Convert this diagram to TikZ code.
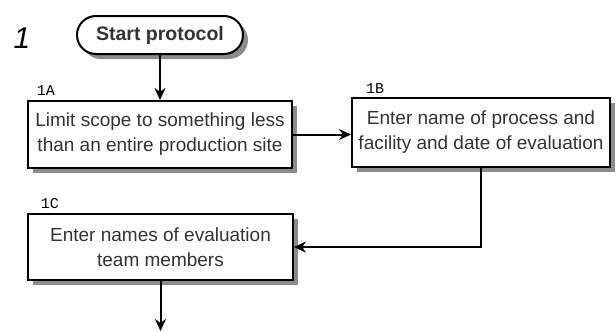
\documentclass[tikz,border=0pt]{standalone}
\usepackage{fontspec}
\setmainfont{Liberation Sans}
\newfontfamily\labelfont{Liberation Mono}
\usetikzlibrary{shapes.misc,arrows.meta}

\begin{document}
\begin{tikzpicture}[x=1pt, y=-1pt,
        stepbox/.style={draw, line width=2pt, fill=white, align=center,
            inner sep=0pt, font=\fontsize{19}{25}\selectfont, text=black!80},
        startbox/.style={stepbox, rounded rectangle, font=\bfseries\fontsize{19.5}{22}\selectfont,
            minimum width=166pt, minimum height=38pt},
        steplabel/.style={font=\labelfont\fontsize{15}{15}\selectfont, inner sep=0pt},
        boxshadow/.style={fill=black!45},
        flow/.style={line width=2pt, -{Stealth[length=12pt, width=11pt]}}]
        \path[fill=white] (0, 0) rectangle (616, 332);
        \useasboundingbox (0, 0) rectangle (616, 332);
        % shadows
        \fill[boxshadow, rounded corners=19pt] (82, 21) rectangle (248, 59);
        \fill[boxshadow] (33, 106) rectangle (297, 173);
        \fill[boxshadow] (357, 103) rectangle (615, 172);
        \fill[boxshadow] (33, 219) rectangle (298, 285);
        % section number
        \node[font=\itshape\fontsize{30}{30}\selectfont] (num) at (22, 38) {1};
        \node[startbox] (start) at (160, 35) {Start protocol};
        % steps
        \node[stepbox, minimum width=264pt, minimum height=67pt] (s1a) at (160, 134.5)
            {Limit scope to something less\\than an entire production site};
        \node[stepbox, minimum width=258pt, minimum height=69pt] (s1b) at (481, 132.5)
            {Enter name of process and\\facility and date of evaluation};
        \node[stepbox, minimum width=265pt, minimum height=66pt] (s1c) at (160.5, 247)
            {Enter names of evaluation\\team members};
        \node[steplabel] (l1a) at (46, 91) {1A};
        \node[steplabel] (l1b) at (375, 89) {1B};
        \node[steplabel] (l1c) at (50, 204) {1C};
        \coordinate (next) at (160.5, 331);
        % connectors
        \draw[flow] (start) -- (s1a);
        \draw[flow] (s1a) -- (s1a -| s1b.west);
        \draw[flow] (s1b.south) |- (s1c.east);
        \draw[flow] (s1c) -- (next);
    \end{tikzpicture}
\end{document}
